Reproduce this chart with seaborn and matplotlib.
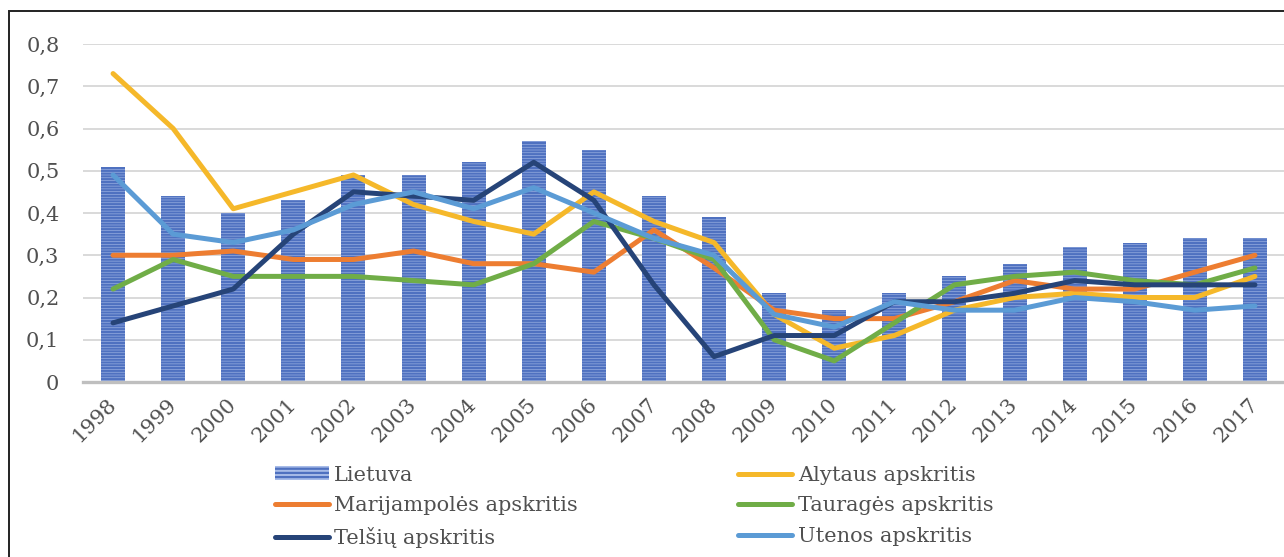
import numpy as np
import pandas as pd
import matplotlib
matplotlib.use("Agg")
import matplotlib.pyplot as plt
import seaborn as sns
from matplotlib.patches import Rectangle, Patch
from matplotlib.lines import Line2D

years = [str(y) for y in range(1998, 2018)]
lietuva = [0.51, 0.44, 0.40, 0.43, 0.49, 0.49, 0.52, 0.57, 0.55, 0.44,
           0.39, 0.21, 0.17, 0.21, 0.25, 0.28, 0.32, 0.33, 0.34, 0.34]
alytaus = [0.73, 0.60, 0.41, 0.45, 0.49, 0.42, 0.38, 0.35, 0.45, 0.38,
           0.33, 0.16, 0.08, 0.11, 0.17, 0.20, 0.21, 0.20, 0.20, 0.25]
marijampoles = [0.30, 0.30, 0.31, 0.29, 0.29, 0.31, 0.28, 0.28, 0.26, 0.36,
                0.27, 0.17, 0.15, 0.15, 0.19, 0.24, 0.22, 0.22, 0.26, 0.30]
taurages = [0.22, 0.29, 0.25, 0.25, 0.25, 0.24, 0.23, 0.28, 0.38, 0.34,
            0.29, 0.10, 0.05, 0.14, 0.23, 0.25, 0.26, 0.24, 0.23, 0.27]
telsiu = [0.14, 0.18, 0.22, 0.35, 0.45, 0.44, 0.43, 0.52, 0.43, 0.23,
          0.06, 0.11, 0.11, 0.19, 0.19, 0.21, 0.24, 0.23, 0.23, 0.23]
utenos = [0.49, 0.35, 0.33, 0.36, 0.42, 0.45, 0.41, 0.46, 0.40, 0.34,
          0.30, 0.16, 0.13, 0.19, 0.17, 0.17, 0.20, 0.19, 0.17, 0.18]

series_names = ["Alytaus apskritis", "Marijampolės apskritis", "Tauragės apskritis",
                "Telšių apskritis", "Utenos apskritis"]
series_vals = [alytaus, marijampoles, taurages, telsiu, utenos]
series_colors = ["#F5B82A", "#ED7D31", "#70AD47", "#264478", "#5B9BD5"]
yticks = [0, 0.1, 0.2, 0.3, 0.4, 0.5, 0.6, 0.7, 0.8]
ytick_labels = ["0", "0,1", "0,2", "0,3", "0,4", "0,5", "0,6", "0,7", "0,8"]

sns.set_theme(style="white")
plt.rcParams["font.family"] = ["DejaVu Serif", "Liberation Serif"]
plt.rcParams["hatch.linewidth"] = 1.6
TXT = "#505050"
FS = 15

W, H = 1284, 557
fig = plt.figure(figsize=(W / 100, H / 100), dpi=100)
ax = fig.add_axes([83 / W, 1 - 382 / H, (1285 - 83) / W, (382 - 44) / H])

bar_df = pd.DataFrame({"year": years, "value": lietuva})
sns.barplot(data=bar_df, x="year", y="value", ax=ax, width=0.4,
            color="#9fb5e4", edgecolor="#4a6dbd", linewidth=0,
            hatch="------", errorbar=None, zorder=2)
for p in ax.patches:
    p.set_facecolor("#a8bce8")
    p.set_edgecolor("#4f71c0")
    p.set_linewidth(0)

long_df = pd.DataFrame({
    "year": years * len(series_names),
    "value": sum(series_vals, []),
    "series": sum([[n] * len(years) for n in series_names], []),
})
sns.pointplot(data=long_df, x="year", y="value", hue="series",
              hue_order=series_names, palette=series_colors, ax=ax,
              markers="", linestyles="-", linewidth=3.6, errorbar=None,
              legend=False, zorder=3)
for ln in ax.lines:
    ln.set_solid_capstyle("round")
    ln.set_solid_joinstyle("round")
    ln.set_zorder(3)

ax.set_ylim(0, 0.8)
ax.set_xlim(-0.5, 19.5)
ax.set_yticks(yticks)
ax.set_yticklabels(ytick_labels)
ax.yaxis.grid(True, color="#d9d9d9", linewidth=1.4, zorder=0)
ax.set_axisbelow(True)
for s in ["top", "right", "left"]:
    ax.spines[s].set_visible(False)
ax.spines["bottom"].set_color("#bfbfbf")
ax.spines["bottom"].set_linewidth(2.4)
ax.spines["bottom"].set_zorder(4)
ax.set_xlabel("")
ax.set_ylabel("")
ax.tick_params(axis="y", length=0, pad=17, labelsize=FS, labelcolor=TXT)
ax.tick_params(axis="x", length=0, pad=14, labelsize=FS, labelcolor=TXT)
for lab in ax.get_xticklabels():
    lab.set_rotation(45)
    lab.set_ha("right")
    lab.set_va("center")
    lab.set_rotation_mode("anchor")

# legend (row-major order in reference; matplotlib fills column-major)
h_lt = Patch(facecolor="#a8bce8", edgecolor="#4f71c0", hatch="----", linewidth=0)
hl = [Line2D([0], [0], color=c, lw=3.6, solid_capstyle="round") for c in series_colors]
handles = [h_lt, hl[1], hl[3], hl[0], hl[2], hl[4]]
labels = ["Lietuva", series_names[1], series_names[3],
          series_names[0], series_names[2], series_names[4]]
leg = fig.legend(handles, labels, ncol=2, loc="upper left",
                 bbox_to_anchor=(256 / W, 1 - 447 / H), frameon=False,
                 fontsize=FS, handlelength=2.6, handleheight=0.65,
                 handletextpad=0.25, columnspacing=7.7, labelspacing=0.55,
                 labelcolor=TXT)

fig.patches.append(Rectangle((9 / W, -0.05), 1.1, 1 - 11 / H + 0.05,
                             transform=fig.transFigure, fill=False,
                             edgecolor="#222222", linewidth=1.4))

fig.savefig("out.png", dpi=100)
